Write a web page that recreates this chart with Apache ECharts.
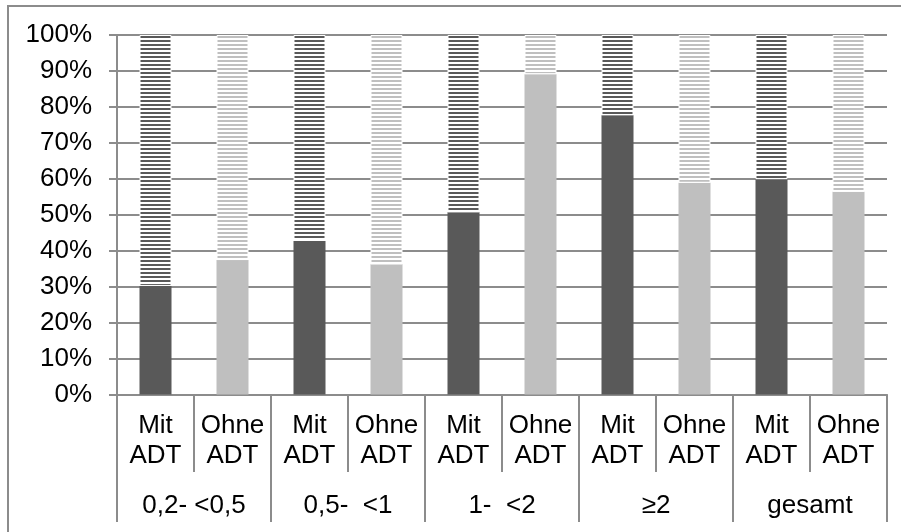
<!DOCTYPE html>
<html>
<head>
<meta charset="utf-8">
<script src="https://cdn.jsdelivr.net/npm/echarts@6/dist/echarts.min.js"></script>
<style>html,body{margin:0;padding:0;background:#fff}#c{width:901px;height:532px}</style>
</head>
<body>
<div id="c"></div>
<script>
const groups = ['0,2- <0,5', '0,5-  <1', '1-  <2', '\u22652', 'gesamt'];
const categories = ['Mit\nADT','Ohne\nADT','Mit\nADT','Ohne\nADT','Mit\nADT','Ohne\nADT','Mit\nADT','Ohne\nADT','Mit\nADT','Ohne\nADT'];
const solidValues = [30.2, 37.4, 42.7, 36.2, 50.7, 89.1, 77.7, 58.9, 59.9, 56.4];
const yTicks = [0,10,20,30,40,50,60,70,80,90,100];

const DARK = '#595959', LIGHT = '#bfbfbf', GRID = '#8c8c8c';
function stripes(color){
  const c = document.createElement('canvas');
  c.width = 4; c.height = 4;
  const g = c.getContext('2d');
  g.fillStyle = '#ffffff'; g.fillRect(0,0,4,4);
  g.fillStyle = color; g.fillRect(0,0,4,2);
  return {image: c, repeat: 'repeat'};
}
const darkPat = stripes(DARK), lightPat = stripes(LIGHT);
const FONT = '"Liberation Sans", Arial, sans-serif';
const FS = 26;

const solidData = solidValues.map((v,i)=>({value:v, itemStyle:{color: i%2===0?DARK:LIGHT}}));
const hatchData = solidValues.map((v,i)=>({value:100-v, itemStyle:{color: i%2===0?darkPat:lightPat, borderColor:'#fff', borderWidth:1}}));

const chart = echarts.init(document.getElementById('c'), null, {renderer:'canvas'});
chart.setOption({
  animation:false,
  backgroundColor:'#fff',
  graphic:[{type:'rect', shape:{x:8,y:6,width:900,height:530}, style:{fill:'none', stroke:GRID, lineWidth:2}, z:-1}],
  grid:{left:117, right:14, top:35, bottom:137.5, containLabel:false},
  xAxis:[{
    type:'category', data:categories, position:'bottom',
    axisLine:{show:true, lineStyle:{color:GRID, width:2}},
    axisTick:{show:true, alignWithLabel:false, interval:0, length:77.5, lineStyle:{color:GRID, width:2}},
    axisLabel:{interval:0, margin:16, color:'#000', fontFamily:FONT, fontSize:FS, lineHeight:30},
    splitLine:{show:false}
  },{
    type:'category', data:groups, position:'bottom', offset:0,
    axisLine:{show:false},
    axisTick:{show:true, alignWithLabel:false, interval:0, length:127.5, lineStyle:{color:GRID, width:2}},
    axisLabel:{interval:0, margin:96, color:'#000', fontFamily:FONT, fontSize:FS, lineHeight:30},
    splitLine:{show:false}
  }],
  yAxis:{
    type:'value', min:0, max:100, interval:10,
    axisLine:{show:true, lineStyle:{color:GRID, width:2}},
    axisTick:{show:true, length:8, lineStyle:{color:GRID, width:2}},
    axisLabel:{margin:25, color:'#000', fontFamily:FONT, fontSize:FS, formatter:v=>v+'%'},
    splitLine:{show:true, lineStyle:{color:GRID, width:2}}
  },
  series:[
    {type:'bar', stack:'s', xAxisIndex:0, barWidth:32, data:solidData},
    {type:'bar', stack:'s', xAxisIndex:0, barWidth:32, data:hatchData}
  ]
});
</script>
</body>
</html>
